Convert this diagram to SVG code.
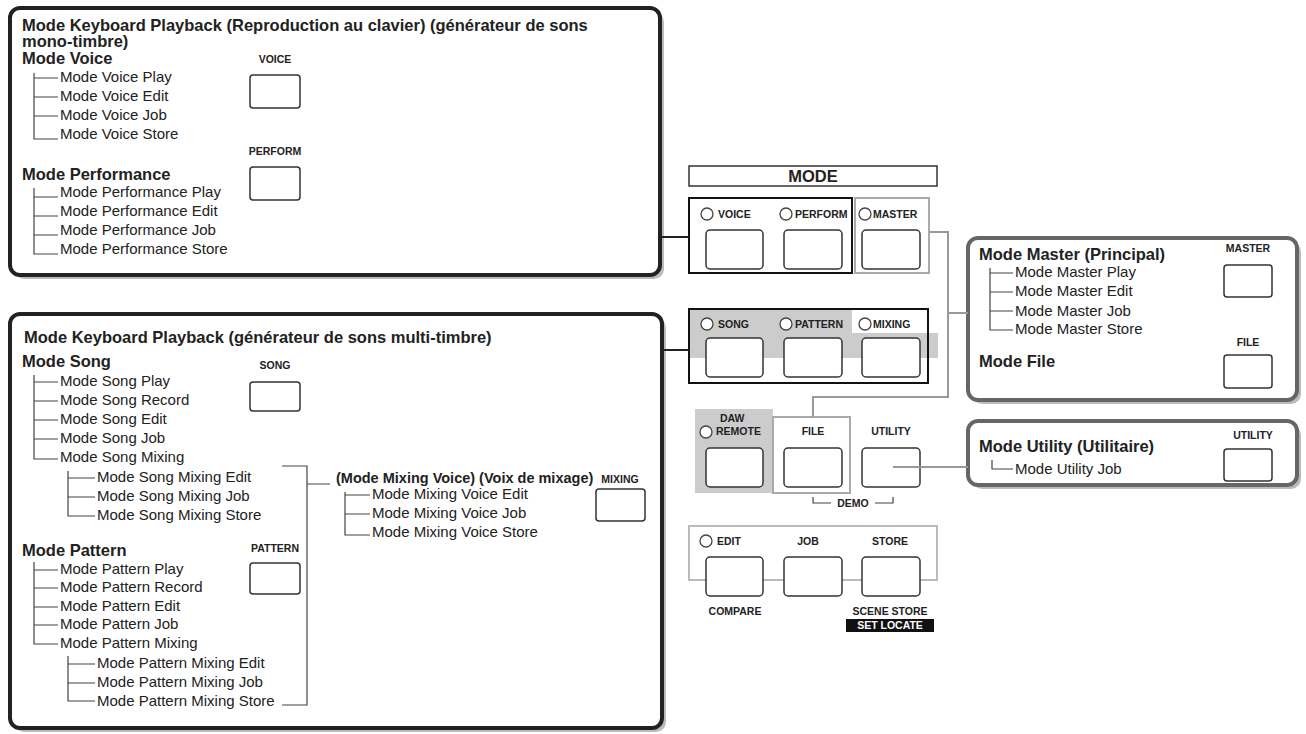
<svg xmlns="http://www.w3.org/2000/svg" width="1306" height="734" viewBox="0 0 1306 734">
<style>
text{font-family:"Liberation Sans",Arial,sans-serif;fill:#222}
.h{font-weight:bold;font-size:16.5px}
.i{font-size:15px}
.s{font-weight:bold;font-size:10.5px}
.b{fill:#fff;stroke:#333;stroke-width:1.5}
.t{fill:none;stroke:#444;stroke-width:1.2}
.g{fill:none;stroke:#999;stroke-width:2}
.led{fill:#fff;stroke:#444;stroke-width:1.3}
.box{fill:#fff;stroke:#222;stroke-width:4}
.gbox{fill:#fff;stroke:#666;stroke-width:4}
.sh{fill:#bbb}
</style>
<g id="panel-top">
<rect x="14" y="12" width="650" height="267" rx="10" class="sh"/>
<rect x="10" y="8" width="650" height="267" rx="10" class="box"/>
<text x="22" y="31" class="h">Mode Keyboard Playback (Reproduction au clavier) (générateur de sons</text>
<text x="22" y="47" class="h">mono-timbre)</text>
<text x="22" y="64" class="h">Mode Voice</text>
<path class="t" d="M34 73V139H58M34 78H58M34 97H58M34 116H58"/>
<text x="60" y="82" class="i">Mode Voice Play</text>
<text x="60" y="101" class="i">Mode Voice Edit</text>
<text x="60" y="120" class="i">Mode Voice Job</text>
<text x="60" y="139" class="i">Mode Voice Store</text>
<text x="275" y="63" class="s" text-anchor="middle">VOICE</text>
<rect x="250" y="75" width="50" height="33" rx="3" class="b"/>
<text x="275" y="155" class="s" text-anchor="middle">PERFORM</text>
<rect x="250" y="167" width="50" height="33" rx="3" class="b"/>
<text x="22" y="180" class="h">Mode Performance</text>
<path class="t" d="M34 188V254H58M34 197H58M34 216H58M34 235H58"/>
<text x="60" y="197" class="i">Mode Performance Play</text>
<text x="60" y="216" class="i">Mode Performance Edit</text>
<text x="60" y="235" class="i">Mode Performance Job</text>
<text x="60" y="254" class="i">Mode Performance Store</text>
</g>
<g id="panel-bottom">
<rect x="14" y="318" width="652" height="414" rx="10" class="sh"/>
<rect x="10" y="314" width="652" height="414" rx="10" class="box"/>
<text x="24" y="343" class="h">Mode Keyboard Playback (générateur de sons multi-timbre)</text>
<text x="22" y="367" class="h">Mode Song</text>
<path class="t" d="M34 375V459H58M34 382H58M34 401H58M34 420H58M34 439H58"/>
<text x="60" y="386" class="i">Mode Song Play</text>
<text x="60" y="405" class="i">Mode Song Record</text>
<text x="60" y="424" class="i">Mode Song Edit</text>
<text x="60" y="443" class="i">Mode Song Job</text>
<text x="60" y="462" class="i">Mode Song Mixing</text>
<text x="275" y="369" class="s" text-anchor="middle">SONG</text>
<rect x="250" y="382" width="50" height="29" rx="3" class="b"/>
<path class="t" d="M68 471V516H95M68 478H95M68 497H95"/>
<text x="97" y="482" class="i">Mode Song Mixing Edit</text>
<text x="97" y="501" class="i">Mode Song Mixing Job</text>
<text x="97" y="520" class="i">Mode Song Mixing Store</text>
<text x="336" y="483" class="h" style="font-size:14.5px">(Mode Mixing Voice) (Voix de mixage)</text>
<path class="t" stroke="#999" d="M345 492V535H370M345 495H370M345 514H370"/>
<text x="372" y="499" class="i">Mode Mixing Voice Edit</text>
<text x="372" y="518" class="i">Mode Mixing Voice Job</text>
<text x="372" y="537" class="i">Mode Mixing Voice Store</text>
<text x="620" y="483" class="s" text-anchor="middle">MIXING</text>
<rect x="596" y="489" width="49" height="32" rx="3" class="b"/>
<text x="22" y="556" class="h">Mode Pattern</text>
<text x="275" y="552" class="s" text-anchor="middle">PATTERN</text>
<rect x="250" y="563" width="50" height="31" rx="3" class="b"/>
<path class="t" d="M34 562V644H58M34 570H58M34 588H58M34 607H58M34 625H58"/>
<text x="60" y="574" class="i">Mode Pattern Play</text>
<text x="60" y="592" class="i">Mode Pattern Record</text>
<text x="60" y="611" class="i">Mode Pattern Edit</text>
<text x="60" y="629" class="i">Mode Pattern Job</text>
<text x="60" y="648" class="i">Mode Pattern Mixing</text>
<path class="t" d="M68 656V701H95M68 664H95M68 683H95"/>
<text x="97" y="668" class="i">Mode Pattern Mixing Edit</text>
<text x="97" y="687" class="i">Mode Pattern Mixing Job</text>
<text x="97" y="706" class="i">Mode Pattern Mixing Store</text>
</g>
<g id="mode-panel">
<rect x="689" y="166" width="248" height="20" fill="#fff" stroke="#333" stroke-width="1.5"/>
<text x="813" y="182" class="h" text-anchor="middle">MODE</text>
<rect x="689" y="198" width="163" height="75" fill="none" stroke="#111" stroke-width="2"/>
<rect x="855" y="198" width="74" height="75" fill="none" stroke="#aaa" stroke-width="2"/>
<circle cx="707" cy="214" r="6" class="led"/><text x="718" y="218" class="s">VOICE</text>
<circle cx="786" cy="214" r="6" class="led"/><text x="795" y="218" class="s">PERFORM</text>
<circle cx="865" cy="214" r="6" class="led"/><text x="873" y="218" class="s">MASTER</text>
<rect x="706" y="230" width="57" height="39" rx="4" class="b"/>
<rect x="784" y="230" width="58" height="39" rx="4" class="b"/>
<rect x="862" y="230" width="58" height="39" rx="4" class="b"/>
<rect x="690" y="310" width="162" height="48" fill="#ccc"/>
<rect x="852" y="333" width="86" height="25" fill="#ccc"/>
<rect x="689" y="309" width="239" height="74" fill="none" stroke="#111" stroke-width="2"/>
<circle cx="707" cy="324" r="6" class="led"/><text x="718" y="328" class="s">SONG</text>
<circle cx="786" cy="324" r="6" class="led"/><text x="795" y="328" class="s">PATTERN</text>
<circle cx="865" cy="324" r="6" class="led"/><text x="873" y="328" class="s">MIXING</text>
<rect x="706" y="338" width="57" height="39" rx="4" class="b"/>
<rect x="784" y="338" width="58" height="39" rx="4" class="b"/>
<rect x="862" y="338" width="58" height="39" rx="4" class="b"/>
<rect x="695" y="409" width="78" height="84" fill="#ccc"/>
<rect x="773" y="417" width="77" height="76" fill="none" stroke="#aaa" stroke-width="2"/>
<circle cx="706" cy="432" r="6" class="led"/>
<text x="720" y="422" class="s">DAW</text><text x="716" y="435" class="s">REMOTE</text>
<text x="813" y="435" class="s" text-anchor="middle">FILE</text>
<text x="891" y="435" class="s" text-anchor="middle">UTILITY</text>
<rect x="706" y="448" width="57" height="39" rx="4" class="b"/>
<rect x="784" y="448" width="58" height="39" rx="4" class="b"/>
<rect x="862" y="448" width="58" height="39" rx="4" class="b"/>
<path class="t" stroke-width="1.5" d="M813 497V503H831M875 503H893V497"/>
<text x="853" y="507" class="s" text-anchor="middle">DEMO</text>
<rect x="689" y="526" width="248" height="54" fill="none" stroke="#bbb" stroke-width="2"/>
<circle cx="706" cy="541" r="6" class="led"/><text x="717" y="545" class="s">EDIT</text>
<text x="808" y="545" class="s" text-anchor="middle">JOB</text>
<text x="890" y="545" class="s" text-anchor="middle">STORE</text>
<rect x="706" y="557" width="57" height="39" rx="4" class="b"/>
<rect x="784" y="557" width="58" height="39" rx="4" class="b"/>
<rect x="862" y="557" width="58" height="39" rx="4" class="b"/>
<text x="735" y="615" class="s" text-anchor="middle">COMPARE</text>
<text x="890" y="615" class="s" text-anchor="middle">SCENE STORE</text>
<rect x="846" y="619" width="88" height="13" fill="#111"/>
<text x="890" y="629" class="s" text-anchor="middle" style="fill:#fff">SET LOCATE</text>
</g>
<g id="panel-master">
<rect x="972" y="242" width="329" height="162" rx="10" class="sh"/>
<rect x="968" y="238" width="329" height="162" rx="10" class="gbox"/>
<text x="979" y="260" class="h">Mode Master (Principal)</text>
<path class="t" d="M990 268V330H1013M990 273H1013M990 292H1013M990 311H1013"/>
<text x="1015" y="277" class="i">Mode Master Play</text>
<text x="1015" y="296" class="i">Mode Master Edit</text>
<text x="1015" y="316" class="i">Mode Master Job</text>
<text x="1015" y="334" class="i">Mode Master Store</text>
<text x="1248" y="252" class="s" text-anchor="middle">MASTER</text>
<rect x="1224" y="265" width="48" height="32" rx="3" class="b"/>
<text x="979" y="367" class="h">Mode File</text>
<text x="1248" y="346" class="s" text-anchor="middle">FILE</text>
<rect x="1224" y="355" width="48" height="33" rx="3" class="b"/>
</g>
<g id="panel-utility">
<rect x="972" y="425" width="329" height="64" rx="10" class="sh"/>
<rect x="968" y="421" width="329" height="64" rx="10" class="gbox"/>
<text x="979" y="452" class="h">Mode Utility (Utilitaire)</text>
<path class="t" stroke="#999" d="M992 460V469H1013"/>
<text x="1015" y="474" class="i">Mode Utility Job</text>
<text x="1253" y="439" class="s" text-anchor="middle">UTILITY</text>
<rect x="1224" y="449" width="48" height="32" rx="3" class="b"/>
</g>
<g id="connectors">
<path d="M660 237H689M662 350H689" fill="none" stroke="#222" stroke-width="2"/>
<path class="g" d="M929 232H948V397H813V417M948 313H968M893 467H968"/>
<path class="t" stroke="#888" d="M282 466H307V705H282M307 484H330"/>
</g>
</svg>
